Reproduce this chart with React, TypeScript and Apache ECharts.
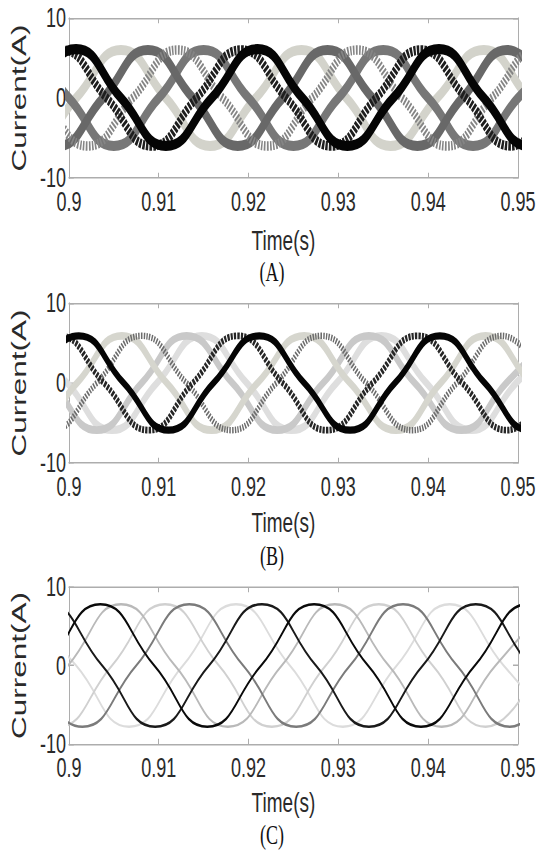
import { useEffect, useRef } from "react";
import * as echarts from "echarts";

// Time axis and current axis ranges (s, A)
const timeMin = 0.9;
const timeMax = 0.95;
const timeStep = 0.01;
const currentMin = -10;
const currentMax = 10;
const currentStep = 10;

const panelTitles = ["(A)", "(B)", "(C)"];
const xAxisTitle = "Time(s)";
const yAxisTitle = "Current(A)";

// ---- (A): waveform key points [time, current] (peaks, zero crossings, troughs)
const aBlack = [[0.8908, -6], [0.8958, 0], [0.9008, 6.1], [0.9058, 0], [0.9108, -6], [0.9159, 0], [0.921, 6.1], [0.926, 0], [0.931, -6], [0.9361, 0], [0.9412, 6.1], [0.9462, 0], [0.9512, -6], [0.9562, 0]];
const aBlackHatch = [[0.8892, -6], [0.8942, 0], [0.8992, 6], [0.9042, 0], [0.9092, -6], [0.9142, 0], [0.9192, 6], [0.9242, 0], [0.9292, -6], [0.9342, 0], [0.9392, 6], [0.9442, 0], [0.9492, -6], [0.9542, 0]];
const aBeige = [[0.8908, 0], [0.8958, -6], [0.9008, 0], [0.9058, 6], [0.9108, 0], [0.9157, -6], [0.9208, 0], [0.9259, 6], [0.9309, 0], [0.9358, -6], [0.941, 0], [0.9462, 6], [0.9512, 0], [0.9562, -6]];
const aGray1 = [[0.8888, 6], [0.8938, 0], [0.8988, -6], [0.9038, 0], [0.9088, 6], [0.9138, 0], [0.9188, -6], [0.9238, 0], [0.9288, 6], [0.9338, 0], [0.9388, -6], [0.9438, 0], [0.9488, 6], [0.9538, 0]];
const aGrayHatch = [[0.8921, 6], [0.8971, 0], [0.9021, -6], [0.9071, 0], [0.9121, 6], [0.9171, 0], [0.9221, -6], [0.9271, 0], [0.9321, 6], [0.9371, 0], [0.9421, -6], [0.9471, 0], [0.9521, 6], [0.9571, 0]];
const aGray2 = [[0.89, 0], [0.895, 6], [0.9, 0], [0.905, -6], [0.91, 0], [0.915, 6], [0.92, 0], [0.925, -6], [0.93, 0], [0.935, 6], [0.94, 0], [0.945, -6], [0.95, 0], [0.955, 6]];

// ---- (B)
const bBlack = [[0.8861, 0], [0.8911, -5.9], [0.8961, 0], [0.9011, 5.9], [0.9061, 0], [0.9111, -5.9], [0.9161, 0], [0.9212, 5.9], [0.9262, 0], [0.9313, -5.9], [0.9363, 0], [0.9413, 5.9], [0.9463, 0], [0.9513, -5.9], [0.9563, 0]];
const bBlackHatch = [[0.8889, -5.9], [0.8939, 0], [0.8989, 5.9], [0.9039, 0], [0.9089, -5.9], [0.9138, 0], [0.9188, 5.9], [0.9238, 0], [0.9287, -5.9], [0.9338, 0], [0.9388, 5.9], [0.9438, 0], [0.9488, -5.9], [0.9538, 0]];
const bBeige = [[0.8909, 0], [0.8959, -5.9], [0.9009, 0], [0.9059, 5.9], [0.9109, 0], [0.9159, -5.9], [0.921, 0], [0.9262, 5.9], [0.9313, 0], [0.9364, -5.9], [0.9414, 0], [0.9464, 5.9], [0.9514, 0], [0.9564, -5.9]];
const bGrayHatch = [[0.8931, 0], [0.8981, -5.9], [0.9031, 0], [0.9081, 5.9], [0.9131, 0], [0.9181, -5.9], [0.9231, 0], [0.9281, 5.9], [0.9331, 0], [0.9382, -5.9], [0.9432, 0], [0.9482, 5.9], [0.9532, 0]];
const bLight = [[0.8931, 5.9], [0.8981, 0], [0.9031, -5.9], [0.9081, 0], [0.9131, 5.9], [0.9182, 0], [0.9232, -5.9], [0.9283, 0], [0.9334, 5.9], [0.9385, 0], [0.9437, -5.9], [0.9487, 0], [0.9537, 5.9]];
const bLighter = [[0.8948, 5.9], [0.8998, 0], [0.9048, -5.9], [0.9098, 0], [0.9148, 5.9], [0.9198, 0], [0.9248, -5.9], [0.9298, 0], [0.9348, 5.9], [0.9398, 0], [0.9448, -5.9], [0.9498, 0], [0.9548, 5.9]];

// ---- (C)
const cBlack1 = [[0.8916, -7.8], [0.8976, 0], [0.9035, 7.8], [0.9095, 0], [0.9154, -7.8], [0.9214, 0], [0.9273, 7.8], [0.9333, 0], [0.9392, -7.8], [0.9452, 0], [0.9511, 7.8], [0.9571, 0]];
const cBlack2 = [[0.8858, -7.8], [0.8918, 0], [0.8977, 7.8], [0.9037, 0], [0.9096, -7.8], [0.9156, 0], [0.9215, 7.8], [0.9275, 0], [0.9334, -7.8], [0.9394, 0], [0.9453, 7.8], [0.9513, 0], [0.9572, -7.8]];
const cGray = [[0.8896, 7.8], [0.8956, 0], [0.9015, -7.8], [0.9075, 0], [0.9134, 7.8], [0.9194, 0], [0.9253, -7.8], [0.9313, 0], [0.9372, 7.8], [0.9432, 0], [0.9491, -7.8], [0.9551, 0]];
const cLight = [[0.8879, 0], [0.8939, -7.8], [0.8999, 0], [0.9058, 7.8], [0.9118, 0], [0.9177, -7.8], [0.9237, 0], [0.9296, 7.8], [0.9356, 0], [0.9415, -7.8], [0.9475, 0], [0.9534, 7.8]];
const cLighter1 = [[0.8869, 7.8], [0.8929, 0], [0.8988, -7.8], [0.9048, 0], [0.9107, 7.8], [0.9167, 0], [0.9226, -7.8], [0.9286, 0], [0.9345, 7.8], [0.9405, 0], [0.9464, -7.8], [0.9524, 0]];
const cLighter2 = [[0.8948, 7.8], [0.9008, 0], [0.9067, -7.8], [0.9127, 0], [0.9186, 7.8], [0.9246, 0], [0.9305, -7.8], [0.9365, 0], [0.9424, 7.8], [0.9484, 0], [0.9543, -7.8]];

// Page geometry: the figure is drawn compressed and stretched vertically
const PAGE_W = 545;
const PAGE_H = 851;
const STRETCH = 1.5;
const CHART_H = PAGE_H / STRETCH;

const SANS = "'Liberation Sans', Arial, Helvetica, sans-serif";
const SERIF = "'Liberation Serif', 'Times New Roman', serif";
const FRAME = "#adadad";
const TEXT = "#2a2a2a";

type Trace = { data: number[][]; color: string; width: number; dash?: number[] };

// Panel frames in page pixels
const layouts = [
  { top: 18, bottom: 178, nameGap: 32, titleY: 272 },
  { top: 303, bottom: 463, nameGap: 29.5, titleY: 556 },
  { top: 587, bottom: 744, nameGap: 29, titleY: 835 },
];

const traces: Trace[][] = [
  [
    { data: aBeige, color: "#d3d3cb", width: 6.8 },
    { data: aGray2, color: "#777777", width: 6.8 },
    { data: aGray1, color: "#686868", width: 6.8 },
    { data: aGrayHatch, color: "#858585", width: 6.3, dash: [1.6, 1.3] },
    { data: aBlackHatch, color: "#1e1e1e", width: 6.3, dash: [2.4, 1.1] },
    { data: aBlack, color: "#050505", width: 6.8 },
  ],
  [
    { data: bLighter, color: "#dedede", width: 5.2 },
    { data: bLight, color: "#c9c9c9", width: 5.2 },
    { data: bBeige, color: "#d6d6ce", width: 5.2 },
    { data: bGrayHatch, color: "#6c6c6c", width: 4.3, dash: [1.4, 1.2] },
    { data: bBlackHatch, color: "#262626", width: 4.5, dash: [2.2, 1.1] },
    { data: bBlack, color: "#050505", width: 4.8 },
  ],
  [
    { data: cLighter2, color: "#dcdcdc", width: 1.6 },
    { data: cLighter1, color: "#d0d0d0", width: 1.6 },
    { data: cLight, color: "#b9b9b9", width: 1.6 },
    { data: cGray, color: "#7b7b7b", width: 1.7 },
    { data: cBlack2, color: "#1a1a1a", width: 1.7 },
    { data: cBlack1, color: "#0a0a0a", width: 1.7 },
  ],
];

function buildOption() {
  const grid: any[] = [];
  const xAxis: any[] = [];
  const yAxis: any[] = [];
  const series: any[] = [];
  const graphic: any[] = [];

  layouts.forEach((p, i) => {
    grid.push({
      left: 62,
      width: 456,
      top: p.top / STRETCH,
      height: (p.bottom - p.top) / STRETCH,
    });
    const tick = { show: true, inside: true, length: 3.5, lineStyle: { color: FRAME, width: 1 } };
    const line = { show: true, onZero: false, lineStyle: { color: FRAME, width: 1 } };
    xAxis.push({
      type: "value",
      gridIndex: i,
      position: "bottom",
      min: timeMin,
      max: timeMax,
      interval: timeStep,
      name: xAxisTitle,
      nameLocation: "middle",
      nameGap: p.nameGap,
      nameTextStyle: { fontSize: 19, color: TEXT, fontFamily: SANS, padding: [0, 20, 0, 0] },
      axisLine: line,
      axisTick: tick,
      splitLine: { show: false },
      axisLabel: {
        fontSize: 18,
        color: TEXT,
        fontFamily: SANS,
        margin: 6.5,
        showMinLabel: true,
        showMaxLabel: true,
        formatter: (v: number) => String(Number(v.toFixed(2))),
      },
    });
    xAxis.push({
      type: "value",
      gridIndex: i,
      position: "top",
      min: timeMin,
      max: timeMax,
      interval: timeStep,
      axisLine: line,
      axisTick: tick,
      axisLabel: { show: false },
      splitLine: { show: false },
    });
    yAxis.push({
      type: "value",
      gridIndex: i,
      position: "left",
      min: currentMin,
      max: currentMax,
      interval: currentStep,
      name: yAxisTitle,
      nameLocation: "middle",
      nameGap: 28,
      nameTextStyle: { fontSize: 21, color: TEXT, fontFamily: SANS },
      axisLine: line,
      axisTick: { ...tick, length: 5 },
      splitLine: { show: false },
      axisLabel: { fontSize: 18, color: TEXT, fontFamily: SANS, margin: 3 },
    });
    yAxis.push({
      type: "value",
      gridIndex: i,
      position: "right",
      min: currentMin,
      max: currentMax,
      interval: currentStep,
      axisLine: line,
      axisTick: { ...tick, length: 5 },
      axisLabel: { show: false },
      splitLine: { show: false },
    });

    traces[i].forEach((t) => {
      series.push({
        type: "line",
        xAxisIndex: i * 2,
        yAxisIndex: i * 2,
        data: t.data,
        smooth: 0.5,
        showSymbol: false,
        symbol: "none",
        clip: true,
        silent: true,
        lineStyle: {
          color: t.color,
          width: t.width,
          type: t.dash ? t.dash : "solid",
          cap: "butt",
        },
        emphasis: { disabled: true },
      });
    });

    graphic.push({
      type: "text",
      x: 272,
      y: p.titleY / STRETCH,
      style: {
        text: panelTitles[i],
        font: `18px ${SERIF}`,
        fill: "#111",
        align: "center",
        verticalAlign: "middle",
        textAlign: "center",
        textVerticalAlign: "middle",
      },
    });
  });

  return {
    animation: false,
    backgroundColor: "#ffffff",
    grid,
    xAxis,
    yAxis,
    series,
    graphic,
  };
}

export default function App() {
  const ref = useRef<HTMLDivElement>(null);

  useEffect(() => {
    if (!ref.current) return;
    const chart = echarts.init(ref.current, undefined, { renderer: "svg" });
    chart.setOption(buildOption());
    return () => chart.dispose();
  }, []);

  return (
    <div
      style={{
        position: "absolute",
        left: 0,
        top: 0,
        width: PAGE_W,
        height: PAGE_H,
        overflow: "hidden",
        background: "#fff",
      }}
    >
      <div
        ref={ref}
        style={{
          width: PAGE_W,
          height: CHART_H,
          transform: `scaleY(${STRETCH})`,
          transformOrigin: "0 0",
        }}
      />
    </div>
  );
}
